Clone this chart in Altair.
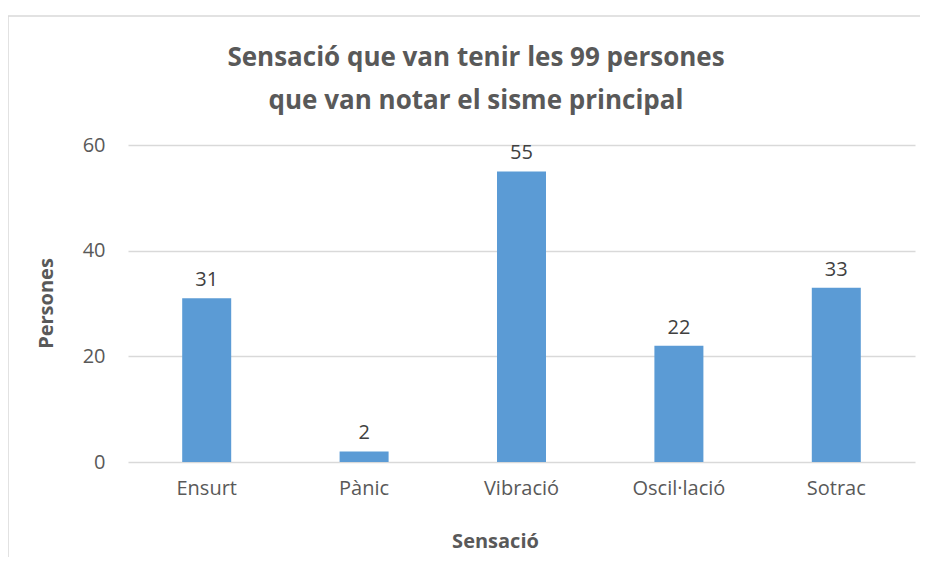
import altair as alt
import pandas as pd

categories = ["Ensurt", "Pànic", "Vibració", "Oscil·lació", "Sotrac"]
values = [31, 2, 55, 22, 33]
y_ticks = [0, 20, 40, 60]
title_lines = ["Sensació que van tenir les 99 persones", "que van notar el sisme principal"]

df = pd.DataFrame({"Sensació": categories, "Persones": values})

FONT = "Open Sans"
GRAY = "#595959"

W, H = 787, 317
PL, PT = 120, 137

base = alt.Chart(df).encode(
    x=alt.X(
        "Sensació:N",
        sort=categories,
        scale=alt.Scale(paddingInner=0, paddingOuter=0),
        axis=alt.Axis(
            title="Sensació", labelAngle=0, grid=False, domain=False, ticks=False,
            labelPadding=16, labelFontSize=20, labelColor=GRAY, labelFont=FONT,
            titleFontSize=20, titleFont=FONT, titleColor=GRAY, titleFontWeight="bold",
            titleX=367, titleY=85, titleBaseline="alphabetic",
        ),
    ),
    y=alt.Y(
        "Persones:Q",
        scale=alt.Scale(domain=[0, 60], nice=False),
        axis=alt.Axis(
            title="Persones", values=y_ticks, domain=False, ticks=False,
            grid=True, gridColor="#D9D9D9", gridWidth=1.5,
            labelPadding=23, labelFontSize=20, labelColor=GRAY, labelFont=FONT,
            titleFontSize=20, titleFont=FONT, titleColor=GRAY, titleFontWeight="bold",
            titleX=-76, titleY=158, titleBaseline="alphabetic", titleAngle=270,
        ),
    ),
)

bars = base.mark_bar(size=49, color="#5B9BD5")
labels = base.mark_text(
    baseline="alphabetic", dy=-12, fontSize=20, font=FONT, color="#404040"
).encode(text="Persones:Q")

one = pd.DataFrame({"a": [0]})

border = alt.Chart(one).mark_rect(
    fill=None, stroke="#D9D9D9", strokeWidth=1.5
).encode(
    x=alt.value(-PL), x2=alt.value(W + 40),
    y=alt.value(16 - 8 - PT), y2=alt.value(H + 200),
)

t1 = alt.Chart(one).mark_text(
    font=FONT, fontSize=26, fontWeight="bold", color=GRAY, align="center", baseline="alphabetic"
).encode(x=alt.value(348), y=alt.value(-79), text=alt.value(title_lines[0]))
t2 = alt.Chart(one).mark_text(
    font=FONT, fontSize=26, fontWeight="bold", color=GRAY, align="center", baseline="alphabetic"
).encode(x=alt.value(348), y=alt.value(-36), text=alt.value(title_lines[1]))

chart = alt.layer(border, bars, labels, t1, t2).properties(
    width=W, height=H,
    autosize=alt.AutoSizeParams(type="none"),
    padding={"left": PL, "top": PT, "right": 5, "bottom": 95},
).configure_view(stroke=None)

chart.save("out.html", embed_options={"renderer": "svg", "actions": False})
